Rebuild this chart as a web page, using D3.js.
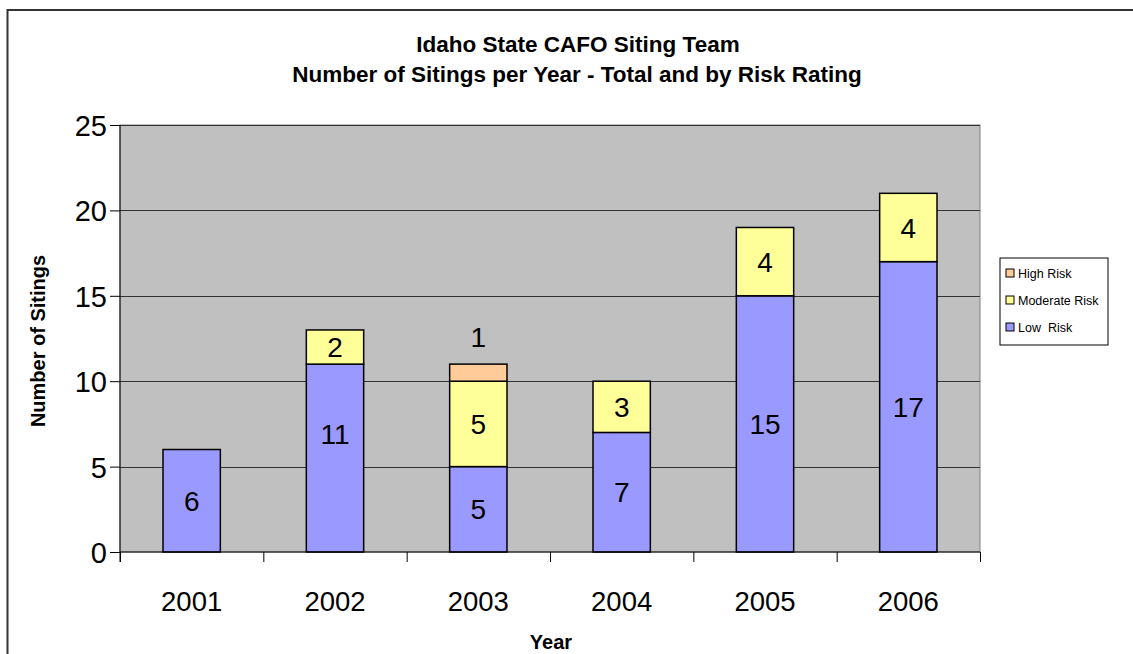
<!DOCTYPE html>
<html>
<head>
<meta charset="utf-8">
<script src="https://cdn.jsdelivr.net/npm/d3@7/dist/d3.min.js"></script>
<style>
  body { margin: 0; background: #fff; }
  svg text { font-family: Arial, "Liberation Sans", sans-serif; fill: #000; }
</style>
</head>
<body>
<div id="chart"></div>
<script>
// chart values
const years = ["2001", "2002", "2003", "2004", "2005", "2006"];
const lowRisk = [6, 11, 5, 7, 15, 17];
const moderateRisk = [0, 2, 5, 3, 4, 4];
const highRisk = [0, 0, 1, 0, 0, 0];
const yTicks = [0, 5, 10, 15, 20, 25];
const seriesNames = ["Low  Risk", "Moderate Risk", "High Risk"];
const seriesColors = ["#9999FF", "#FFFF99", "#FFCC99"];

const width = 1133, height = 654;
const plot = { left: 120, right: 980, top: 125, bottom: 552 };

const svg = d3.select("#chart").append("svg")
    .attr("width", width)
    .attr("height", height);

// outer frame (runs off the right and bottom edges)
svg.append("rect")
    .attr("x", 7.5).attr("y", 10)
    .attr("width", 1200).attr("height", 700)
    .attr("fill", "none")
    .attr("stroke", "#333")
    .attr("stroke-width", 2);

// title
svg.append("text")
    .attr("x", 578).attr("y", 52)
    .attr("text-anchor", "middle")
    .style("font-size", "22.5px").style("font-weight", "bold")
    .text("Idaho State CAFO Siting Team");
svg.append("text")
    .attr("x", 577).attr("y", 82)
    .attr("text-anchor", "middle")
    .style("font-size", "22.5px").style("font-weight", "bold")
    .text("Number of Sitings per Year - Total and by Risk Rating");

const x = d3.scaleBand()
    .domain(years)
    .range([plot.left, plot.right])
    .paddingInner(0.6)
    .paddingOuter(0.3);

const xEdge = d3.scaleLinear()
    .domain([0, years.length])
    .range([plot.left, plot.right]);

const y = d3.scaleLinear()
    .domain([0, 25])
    .range([plot.bottom, plot.top]);

// plot area
svg.append("rect")
    .attr("x", plot.left).attr("y", plot.top)
    .attr("width", plot.right - plot.left)
    .attr("height", plot.bottom - plot.top)
    .attr("fill", "#C0C0C0")
    .attr("stroke", "#808080")
    .attr("stroke-width", 1);

// gridlines
svg.append("g")
    .selectAll("line")
    .data(yTicks.filter(d => d > 0))
    .enter().append("line")
    .attr("x1", plot.left).attr("x2", plot.right)
    .attr("y1", d => Math.round(y(d)) + 0.5)
    .attr("y2", d => Math.round(y(d)) + 0.5)
    .attr("stroke", "#333")
    .attr("stroke-width", 1);

// stacked data
const rows = years.map((yr, i) => ({ year: yr, low: lowRisk[i], moderate: moderateRisk[i], high: highRisk[i] }));
const stack = d3.stack().keys(["low", "moderate", "high"]);
const layers = stack(rows);

const layerG = svg.append("g")
    .selectAll("g")
    .data(layers)
    .enter().append("g")
    .attr("fill", (d, i) => seriesColors[i]);

layerG.selectAll("rect")
    .data(d => d.filter(s => s[1] - s[0] > 0))
    .enter().append("rect")
    .attr("x", d => x(d.data.year))
    .attr("y", d => y(d[1]))
    .attr("width", x.bandwidth())
    .attr("height", d => y(d[0]) - y(d[1]))
    .attr("stroke", "#000")
    .attr("stroke-width", 1.5);

// value labels (the 2002 low-risk label sits higher in the original)
layers.forEach(layer => {
    layer.forEach(s => {
        const v = s[1] - s[0];
        if (v <= 0) return;
        const segH = y(s[0]) - y(s[1]);
        let mid = (s[0] + s[1]) / 2;
        if (layer.key === "low" && s.data.year === "2002") mid += 1.4;
        let cy = y(mid);
        // too thin to hold the label: put it above the bar
        if (segH < 24) cy = y(s[1]) - 27;
        svg.append("text")
            .attr("x", x(s.data.year) + x.bandwidth() / 2)
            .attr("y", cy)
            .attr("dy", "0.36em")
            .attr("text-anchor", "middle")
            .style("font-size", "28px")
            .text(v);
    });
});

// y axis
const yAxis = d3.axisLeft(y).tickValues(yTicks).tickSize(10).tickPadding(3);
const gy = svg.append("g")
    .attr("transform", "translate(" + plot.left + ",0)")
    .call(yAxis);
gy.select(".domain").attr("stroke", "#000").attr("d", "M0," + plot.top + "V" + (plot.bottom + 10));
gy.selectAll("text").style("font-size", "29px").attr("dy", "0.36em");

// x axis: boundary ticks
const gx = svg.append("g")
    .attr("transform", "translate(0," + plot.bottom + ")")
    .call(d3.axisBottom(xEdge).tickValues(d3.range(0, years.length + 1)).tickSize(10).tickFormat(""));
gx.select(".domain").attr("d", "M" + plot.left + ",0H" + plot.right);

// x axis labels
const gxl = svg.append("g")
    .attr("transform", "translate(0," + plot.bottom + ")")
    .call(d3.axisBottom(x).tickSize(0).tickPadding(0));
gxl.select(".domain").remove();
gxl.selectAll("text").style("font-size", "27.5px").attr("y", 49).attr("dy", "0.36em");

// axis titles
svg.append("text")
    .attr("x", 551).attr("y", 649)
    .attr("text-anchor", "middle")
    .style("font-size", "20px").style("font-weight", "bold")
    .text("Year");
svg.append("text")
    .attr("transform", "translate(45,341) rotate(-90)")
    .attr("text-anchor", "middle")
    .style("font-size", "20px").style("font-weight", "bold")
    .text("Number of Sitings");

// legend
const legend = svg.append("g").attr("transform", "translate(1000,258)");
legend.append("rect")
    .attr("width", 108).attr("height", 87)
    .attr("fill", "#fff")
    .attr("stroke", "#000")
    .attr("stroke-width", 1);
const legendOrder = [2, 1, 0];
legendOrder.forEach((si, k) => {
    const ly = 15 + k * 27;
    legend.append("rect")
        .attr("x", 6).attr("y", ly - 4)
        .attr("width", 8).attr("height", 8)
        .attr("fill", seriesColors[si])
        .attr("stroke", "#000")
        .attr("stroke-width", 1);
    legend.append("text")
        .attr("x", 18).attr("y", ly)
        .attr("dy", "0.36em")
        .style("font-size", "12.5px")
        .style("white-space", "pre")
        .attr("xml:space", "preserve")
        .text(seriesNames[si]);
});
</script>
</body>
</html>
